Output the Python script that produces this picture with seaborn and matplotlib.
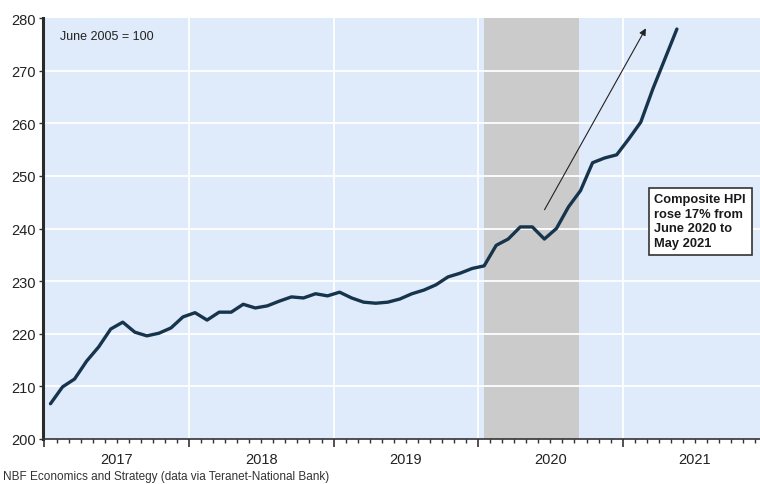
import numpy as np
import pandas as pd
import matplotlib
matplotlib.use("Agg")
import matplotlib.pyplot as plt
import seaborn as sns

# ---- data ----
start_month = "2017-01-01"
hpi_values = [
    206.7, 209.9, 211.4, 214.8, 217.5, 220.9, 222.2, 220.3, 219.6, 220.1, 221.1, 223.2,  # 2017
    224.0, 222.6, 224.1, 224.1, 225.6, 224.9, 225.3, 226.2, 227.0, 226.8, 227.6, 227.2,  # 2018
    227.9, 226.8, 226.0, 225.8, 226.0, 226.6, 227.6, 228.3, 229.3, 230.8, 231.5, 232.4,  # 2019
    232.9, 236.8, 238.0, 240.3, 240.3, 238.0, 240.0, 244.1, 247.2, 252.5, 253.4, 254.0,  # 2020
    257.0, 260.2, 266.5, 272.2, 277.9,                                                    # 2021
]
year_labels = ["2017", "2018", "2019", "2020", "2021"]
y_ticks = [200, 210, 220, 230, 240, 250, 260, 270, 280]
recession = (2020.04, 2020.70)
arrow_from = (2020.45, 243.1)
arrow_to = (2021.17, 278.5)
note_text = "June 2005 = 100"
box_text = "Composite HPI\nrose 17% from\nJune 2020 to\nMay 2021"
source_text = "NBF Economics and Strategy (data via Teranet-National Bank)"

dates = pd.date_range(start_month, periods=len(hpi_values), freq="MS")
frac_year = dates.year + (dates.month - 1) / 12 + 1 / 24
df = pd.DataFrame({"t": frac_year, "hpi": hpi_values})

# ---- style ----
sns.set_theme(style="white")
plt.rcParams["font.family"] = ["Liberation Sans", "DejaVu Sans"]

fig = plt.figure(figsize=(7.6, 4.85), dpi=100)
ax = fig.add_axes([0.0566, 0.0928, 0.9434, 0.868])
ax.set_facecolor("#dfeafa")

ax.axvspan(*recession, color="#cbcbcb", zorder=1, lw=0)

sns.lineplot(data=df, x="t", y="hpi", ax=ax, color="#17344d", lw=2.4, zorder=3)

ax.set_xlim(2016.99, 2021.95)
ax.set_ylim(200, 280)
ax.set_yticks(y_ticks)

# grid: white horizontal lines, vertical at year boundaries
for y in y_ticks[1:-1]:
    ax.axhline(y, color="white", lw=1.3, zorder=2)
for yr in range(2018, 2022):
    ax.axvline(yr, color="white", lw=1.3, zorder=2)

# x ticks: year boundaries (major), months (minor), labels centred
years = [int(s) for s in year_labels]
ax.set_xticks(years)
ax.set_xticklabels([])
month_ticks = np.arange(2017, 2022, 1 / 12)
ax.set_xticks(month_ticks, minor=True)
for yr, lab in zip(years, year_labels):
    ax.text(yr + 0.5, -0.03, lab, transform=ax.get_xaxis_transform(),
            ha="center", va="top", fontsize=10.5, color="#222222")

ax.tick_params(axis="x", which="major", direction="out", length=6, width=1.2, color="#333333", bottom=True)
ax.tick_params(axis="x", which="minor", direction="out", length=3, width=1, color="#333333", bottom=True)
ax.tick_params(axis="y", direction="out", length=3, width=1, color="#333333", left=True,
               labelsize=10.5, labelcolor="#222222", pad=2)

for s in ["top", "right"]:
    ax.spines[s].set_visible(False)
ax.spines["left"].set_color("#2a2a2a")
ax.spines["left"].set_linewidth(2.2)
ax.spines["bottom"].set_color("#333333")
ax.spines["bottom"].set_linewidth(1.2)
ax.set_xlabel("")
ax.set_ylabel("")

ax.text(2017.105, 276.6, note_text, fontsize=9, color="#222222", va="center", ha="left")

ax.annotate("", xy=arrow_to, xytext=arrow_from,
            arrowprops=dict(arrowstyle="-|>", color="#222222", lw=0.8, mutation_scale=10),
            zorder=4)

ax.text(2021.22, 241.4, box_text, fontsize=9.3, fontweight="bold", color="#1a1a1a",
        va="center", ha="left", linespacing=1.28, zorder=5,
        bbox=dict(boxstyle="square,pad=0.45", facecolor="white", edgecolor="#333333", lw=1.2))

fig.text(0.004, 0.005, source_text, fontsize=8.5, color="#333333", ha="left", va="bottom")

fig.savefig("out.png", dpi=100)
